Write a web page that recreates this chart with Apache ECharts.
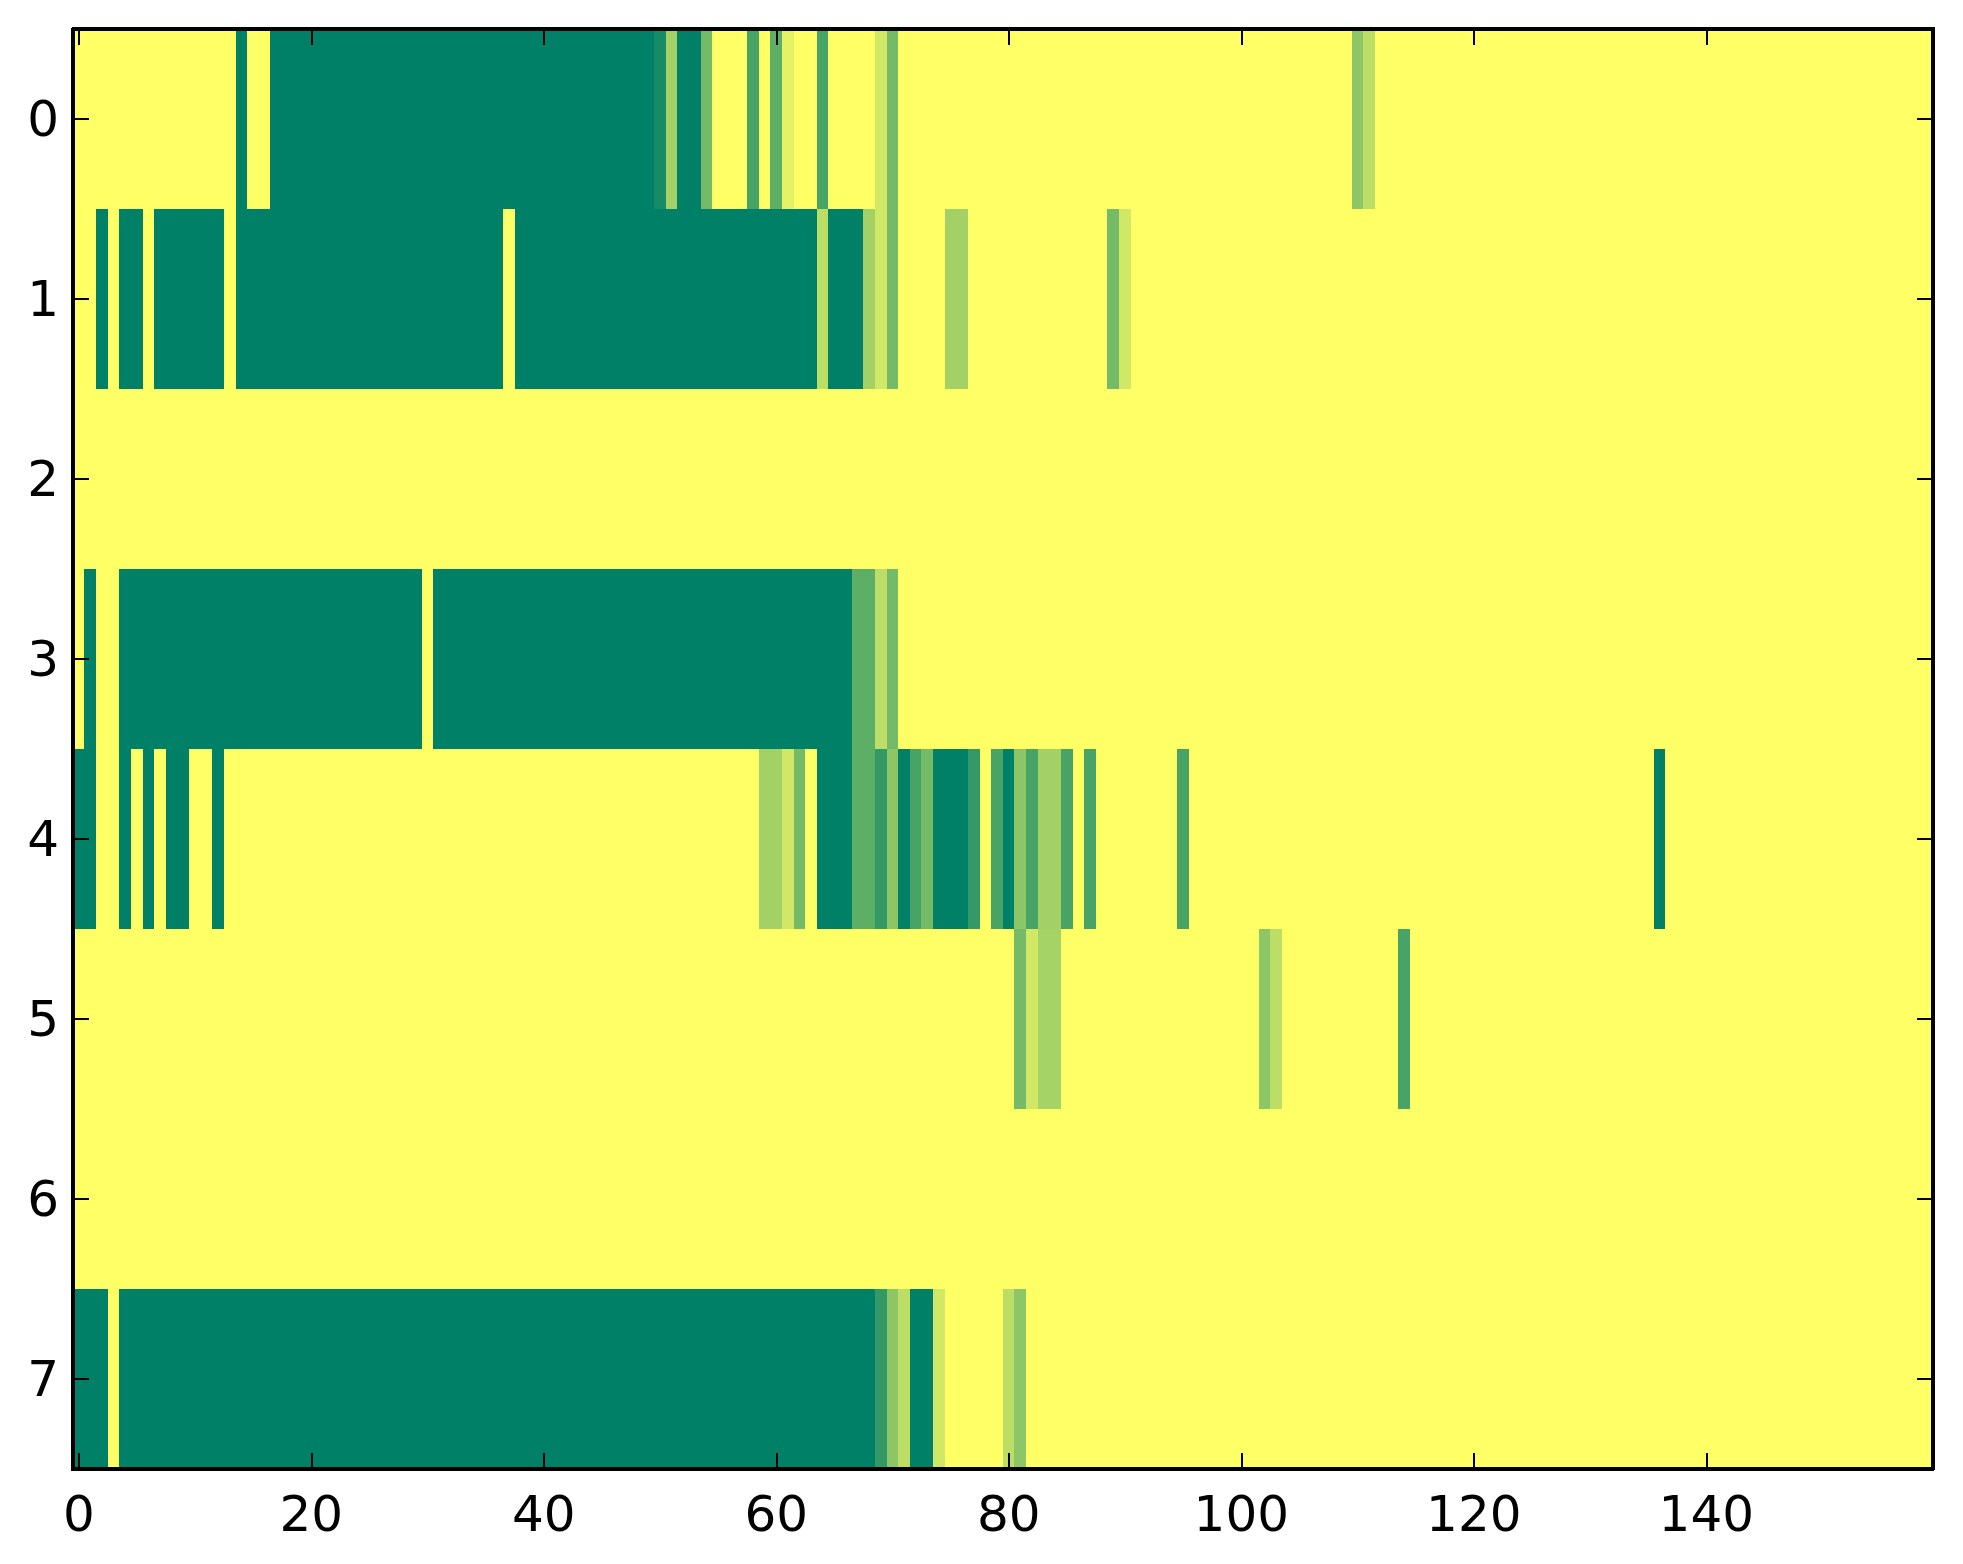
<!DOCTYPE html>
<html>
<head>
<meta charset="utf-8">
<script src="https://cdn.jsdelivr.net/npm/echarts@6/dist/echarts.min.js"></script>
<style>
  html, body { margin: 0; padding: 0; background: #ffffff; }
  #chart { width: 1963px; height: 1564px; }
  #chart svg path, #chart svg rect { shape-rendering: crispEdges; }
</style>
</head>
<body>
<div id="chart"></div>
<script>
// Row labels (top to bottom) and x tick labels
const rowLabels = ['0', '1', '2', '3', '4', '5', '6', '7'];
const xTickLabels = [0, 20, 40, 60, 80, 100, 120, 140];

// Cell values per row, columns 0..159 (0 = dark green, 1 = yellow)
const row0 = [
  1,1,1,1,1,1,1,1,1,1,
  1,1,1,1,0,1,1,0,0,0,
  0,0,0,0,0,0,0,0,0,0,
  0,0,0,0,0,0,0,0,0,0,
  0,0,0,0,0,0,0,0,0,0,
  0.09,0.64,0,0,0.46,1,1,1,0.28,1,
  0.37,0.9,1,1,0.28,1,1,1,1,0.82,
  0.46,1,1,1,1,1,1,1,1,1,
  1,1,1,1,1,1,1,1,1,1,
  1,1,1,1,1,1,1,1,1,1,
  1,1,1,1,1,1,1,1,1,1,
  0.55,0.74,1,1,1,1,1,1,1,1,
  1,1,1,1,1,1,1,1,1,1,
  1,1,1,1,1,1,1,1,1,1,
  1,1,1,1,1,1,1,1,1,1,
  1,1,1,1,1,1,1,1,1,1
];
const row1 = [
  1,1,0,1,0,0,1,0,0,0,
  0,0,0,1,0,0,0,0,0,0,
  0,0,0,0,0,0,0,0,0,0,
  0,0,0,0,0,0,0,1,0,0,
  0,0,0,0,0,0,0,0,0,0,
  0,0,0,0,0,0,0,0,0,0,
  0,0,0,0,0.74,0,0,0,0.64,0.82,
  0.46,1,1,1,1,0.64,0.64,1,1,1,
  1,1,1,1,1,1,1,1,1,0.46,
  0.82,1,1,1,1,1,1,1,1,1,
  1,1,1,1,1,1,1,1,1,1,
  1,1,1,1,1,1,1,1,1,1,
  1,1,1,1,1,1,1,1,1,1,
  1,1,1,1,1,1,1,1,1,1,
  1,1,1,1,1,1,1,1,1,1,
  1,1,1,1,1,1,1,1,1,1
];
const row2 = [
  1,1,1,1,1,1,1,1,1,1,
  1,1,1,1,1,1,1,1,1,1,
  1,1,1,1,1,1,1,1,1,1,
  1,1,1,1,1,1,1,1,1,1,
  1,1,1,1,1,1,1,1,1,1,
  1,1,1,1,1,1,1,1,1,1,
  1,1,1,1,1,1,1,1,1,1,
  1,1,1,1,1,1,1,1,1,1,
  1,1,1,1,1,1,1,1,1,1,
  1,1,1,1,1,1,1,1,1,1,
  1,1,1,1,1,1,1,1,1,1,
  1,1,1,1,1,1,1,1,1,1,
  1,1,1,1,1,1,1,1,1,1,
  1,1,1,1,1,1,1,1,1,1,
  1,1,1,1,1,1,1,1,1,1,
  1,1,1,1,1,1,1,1,1,1
];
const row3 = [
  1,0,1,1,0,0,0,0,0,0,
  0,0,0,0,0,0,0,0,0,0,
  0,0,0,0,0,0,0,0,0,0,
  1,0,0,0,0,0,0,0,0,0,
  0,0,0,0,0,0,0,0,0,0,
  0,0,0,0,0,0,0,0,0,0,
  0,0,0,0,0,0,0,0.37,0.37,0.74,
  0.46,1,1,1,1,1,1,1,1,1,
  1,1,1,1,1,1,1,1,1,1,
  1,1,1,1,1,1,1,1,1,1,
  1,1,1,1,1,1,1,1,1,1,
  1,1,1,1,1,1,1,1,1,1,
  1,1,1,1,1,1,1,1,1,1,
  1,1,1,1,1,1,1,1,1,1,
  1,1,1,1,1,1,1,1,1,1,
  1,1,1,1,1,1,1,1,1,1
];
const row4 = [
  0,0,1,1,0,1,0,1,0,0,
  1,1,0,1,1,1,1,1,1,1,
  1,1,1,1,1,1,1,1,1,1,
  1,1,1,1,1,1,1,1,1,1,
  1,1,1,1,1,1,1,1,1,1,
  1,1,1,1,1,1,1,1,1,0.64,
  0.64,0.82,0.46,1,0,0,0,0.37,0.37,0.2,
  0.55,0,0.28,0.46,0,0,0,0.2,1,0.28,
  0,0.55,0.28,0.64,0.64,0.28,1,0.28,1,1,
  1,1,1,1,1,0.28,1,1,1,1,
  1,1,1,1,1,1,1,1,1,1,
  1,1,1,1,1,1,1,1,1,1,
  1,1,1,1,1,1,1,1,1,1,
  1,1,1,1,1,1,0,1,1,1,
  1,1,1,1,1,1,1,1,1,1,
  1,1,1,1,1,1,1,1,1,1
];
const row5 = [
  1,1,1,1,1,1,1,1,1,1,
  1,1,1,1,1,1,1,1,1,1,
  1,1,1,1,1,1,1,1,1,1,
  1,1,1,1,1,1,1,1,1,1,
  1,1,1,1,1,1,1,1,1,1,
  1,1,1,1,1,1,1,1,1,1,
  1,1,1,1,1,1,1,1,1,1,
  1,1,1,1,1,1,1,1,1,1,
  1,0.46,0.82,0.65,0.65,1,1,1,1,1,
  1,1,1,1,1,1,1,1,1,1,
  1,1,0.55,0.74,1,1,1,1,1,1,
  1,1,1,1,0.28,1,1,1,1,1,
  1,1,1,1,1,1,1,1,1,1,
  1,1,1,1,1,1,1,1,1,1,
  1,1,1,1,1,1,1,1,1,1,
  1,1,1,1,1,1,1,1,1,1
];
const row6 = [
  1,1,1,1,1,1,1,1,1,1,
  1,1,1,1,1,1,1,1,1,1,
  1,1,1,1,1,1,1,1,1,1,
  1,1,1,1,1,1,1,1,1,1,
  1,1,1,1,1,1,1,1,1,1,
  1,1,1,1,1,1,1,1,1,1,
  1,1,1,1,1,1,1,1,1,1,
  1,1,1,1,1,1,1,1,1,1,
  1,1,1,1,1,1,1,1,1,1,
  1,1,1,1,1,1,1,1,1,1,
  1,1,1,1,1,1,1,1,1,1,
  1,1,1,1,1,1,1,1,1,1,
  1,1,1,1,1,1,1,1,1,1,
  1,1,1,1,1,1,1,1,1,1,
  1,1,1,1,1,1,1,1,1,1,
  1,1,1,1,1,1,1,1,1,1
];
const row7 = [
  0,0,0,1,0,0,0,0,0,0,
  0,0,0,0,0,0,0,0,0,0,
  0,0,0,0,0,0,0,0,0,0,
  0,0,0,0,0,0,0,0,0,0,
  0,0,0,0,0,0,0,0,0,0,
  0,0,0,0,0,0,0,0,0,0,
  0,0,0,0,0,0,0,0,0,0.2,
  0.55,0.74,0,0,0.82,1,1,1,1,1,
  0.74,0.55,1,1,1,1,1,1,1,1,
  1,1,1,1,1,1,1,1,1,1,
  1,1,1,1,1,1,1,1,1,1,
  1,1,1,1,1,1,1,1,1,1,
  1,1,1,1,1,1,1,1,1,1,
  1,1,1,1,1,1,1,1,1,1,
  1,1,1,1,1,1,1,1,1,1,
  1,1,1,1,1,1,1,1,1,1
];

const rows = [row0, row1, row2, row3, row4, row5, row6, row7];
const xCategories = row0.map((_, i) => String(i));

const cells = [];
rows.forEach((row, r) => {
  row.forEach((v, c) => cells.push([c, r, v]));
});

const font = { fontFamily: 'DejaVu Sans', fontSize: 50, color: '#000000' };
const showTick = (index) => xTickLabels.indexOf(index) !== -1;
const lineStyle = { color: '#000000', width: 4 };
const tickStyle = { color: '#000000', width: 2 };

const chart = echarts.init(document.getElementById('chart'), null, { renderer: 'svg' });
chart.setOption({
  animation: false,
  backgroundColor: '#ffffff',
  grid: { left: 73, right: 30, top: 29, bottom: 95, containLabel: false },
  xAxis: [
    {
      type: 'category', data: xCategories, position: 'bottom', z: 10,
      axisLine: { show: true, lineStyle: lineStyle },
      axisTick: { show: true, inside: true, length: 16, alignWithLabel: true, interval: showTick, lineStyle: tickStyle },
      axisLabel: Object.assign({ show: true, interval: showTick, margin: 20 }, font),
      splitLine: { show: false }
    },
    {
      type: 'category', data: xCategories, position: 'top', z: 10,
      axisLine: { show: true, lineStyle: lineStyle },
      axisTick: { show: true, inside: true, length: 16, alignWithLabel: true, interval: showTick, lineStyle: tickStyle },
      axisLabel: { show: false },
      splitLine: { show: false }
    }
  ],
  yAxis: [
    {
      type: 'category', data: rowLabels, inverse: true, position: 'left', z: 10,
      axisLine: { show: true, lineStyle: lineStyle },
      axisTick: { show: true, inside: true, length: 16, alignWithLabel: true, lineStyle: tickStyle },
      axisLabel: Object.assign({ show: true, margin: 14 }, font),
      splitLine: { show: false }
    },
    {
      type: 'category', data: rowLabels, inverse: true, position: 'right', z: 10,
      axisLine: { show: true, lineStyle: lineStyle },
      axisTick: { show: true, inside: true, length: 16, alignWithLabel: true, lineStyle: tickStyle },
      axisLabel: { show: false },
      splitLine: { show: false }
    }
  ],
  visualMap: {
    type: 'continuous', show: false, min: 0, max: 1, dimension: 2,
    inRange: { color: ['#008066', '#ffff66'] }
  },
  series: [{
    type: 'heatmap',
    xAxisIndex: 0, yAxisIndex: 0,
    data: cells,
    progressive: 0,
    itemStyle: { borderWidth: 0 },
    emphasis: { disabled: true }
  }]
});
</script>
</body>
</html>
